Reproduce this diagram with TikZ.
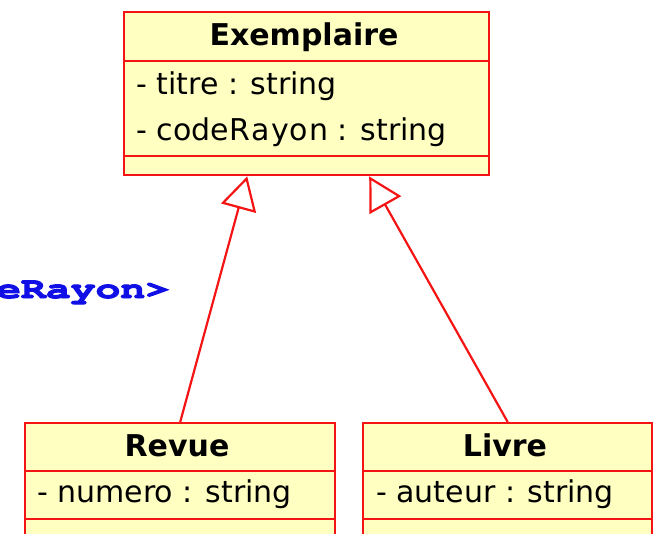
\documentclass[tikz,border=0pt]{standalone}
\usepackage[T1]{fontenc}
\usepackage{fontspec}
\usepackage{graphicx}
\setmainfont{DejaVu Sans}
\usetikzlibrary{arrows.meta,calc}
\definecolor{umlred}{RGB}{245,20,20}
\definecolor{umlfill}{RGB}{255,255,194}
\definecolor{codeblue}{RGB}{15,15,230}
\newcommand{\courbold}{\fontencoding{T1}\fontfamily{pcr}\fontseries{b}\fontsize{30}{34}\selectfont}
\newcommand{\fakeboldtext}[1]{\special{pdf:literal direct 2 Tr 0.9 w}#1\special{pdf:literal direct 0 Tr}}
\begin{document}
\begin{tikzpicture}[x=1pt,y=-1pt,
  umlbox/.style={draw=umlred, fill=umlfill, line width=2.4pt, rectangle, inner sep=0pt, anchor=north west},
  clstitle/.style={anchor=base, font=\fontsize{30}{36}\selectfont\bfseries, inner sep=0pt},
  attr/.style={anchor=base west, font=\fontsize{30}{36}\selectfont, inner sep=0pt},
  inherit/.style={draw=umlred, line width=2.2pt, -{Triangle[open, length=33pt, width=36pt, line width=2.2pt]}}]
\useasboundingbox (0,0) rectangle (655,533);
\clip (0,0) rectangle (655,533);
% Exemplaire
\node[umlbox, minimum width=365pt, minimum height=49pt] (ext) at (123,11) {};
\node[umlbox, minimum width=365pt, minimum height=95pt] (exa) at (123,60) {};
\node[umlbox, minimum width=365pt, minimum height=19pt] (exo) at (123,155) {};
\node[clstitle] (exn) at (304,45) {Exemplaire};
\node[attr] (exa1) at (136,94) {- titre : string};
\node[attr] (exa2) at (136,140) {- code\hspace{1pt}R\hspace{1pt}a\hspace{1pt}y\hspace{1pt}o\hspace{1pt}n : string};
% Revue
\node[umlbox, minimum width=310pt, minimum height=48pt] (rvt) at (24,422) {};
\node[umlbox, minimum width=310pt, minimum height=48pt] (rva) at (24,470) {};
\node[umlbox, minimum width=310pt, minimum height=30pt] (rvo) at (24,518) {};
\node[clstitle] (rvn) at (177,456) {Revue};
\node[attr] (rva1) at (37,502) {- numero : string};
% Livre
\node[umlbox, minimum width=289pt, minimum height=48pt] (lvt) at (362,422) {};
\node[umlbox, minimum width=289pt, minimum height=48pt] (lva) at (362,470) {};
\node[umlbox, minimum width=289pt, minimum height=30pt] (lvo) at (362,518) {};
\node[clstitle] (lvn) at (505,456) {Livre};
\node[attr] (lva1) at (376,502) {- auteur : string};
% blue code text
\node[anchor=base west, inner sep=0pt, text=codeblue] (code) at (-4,298) {\scalebox{1.38}[1]{\courbold\fakeboldtext{eRayon>}}};
% generalisations
\coordinate (t1) at ($(exo.south)+(-59.5,0)$);
\coordinate (t2) at ($(exo.south)+(62.5,0)$);
\draw[inherit] (rvt.north) -- (t1);
\draw[inherit] (lvt.north) -- (t2);
\end{tikzpicture}
\end{document}
